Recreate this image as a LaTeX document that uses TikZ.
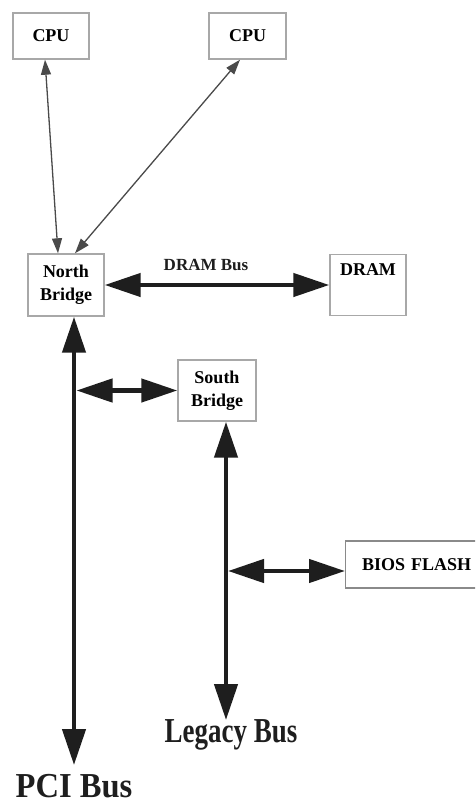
\documentclass[tikz,border=0pt]{standalone}
\usepackage{fontspec}
\setmainfont{Liberation Serif}
\usepackage{graphicx}
\usetikzlibrary{arrows.meta,calc}
\definecolor{boxgray}{HTML}{A8A8A8}
\definecolor{biosgray}{HTML}{8A8A8A}
\definecolor{busblack}{HTML}{1E1E1E}
\definecolor{thingray}{HTML}{4A4A4A}
\begin{document}
\begin{tikzpicture}[x=1pt,y=-1pt,
  box/.style={draw=boxgray, line width=1.4pt, fill=white, inner sep=0pt, align=center,
    font=\fontsize{18}{23}\selectfont\bfseries},
  bus/.style={line width=4.5pt, draw=busblack,
    {Triangle[length=36pt,width=23pt]}-{Triangle[length=36pt,width=23pt]}},
  cpulink/.style={line width=1.3pt, draw=thingray,
    {Triangle[length=15pt,width=10pt]}-{Triangle[length=15pt,width=10pt]}},
  biglabel/.style={anchor=base, inner sep=0pt, text depth=0pt, text=busblack},
]
\clip (0,0) rectangle (475,806);
\fill[white] (0,0) rectangle (475,806);

% boxes
\node[box, minimum width=76pt, minimum height=46pt] (cpu1) at (51,36) {CPU};
\node[box, minimum width=77pt, minimum height=46pt] (cpu2) at (247.5,36) {CPU};
\node[box, minimum width=76pt, minimum height=62pt] (nb) at (66,285) {North\\Bridge};
\node[box, minimum width=76pt, minimum height=61pt] (dram) at (368,285) {DRAM\\\strut};
\node[box, minimum width=78pt, minimum height=61pt] (sb) at (217,390.5) {South\\Bridge};
\node[box, draw=biosgray, anchor=west, minimum height=47pt, text width=122pt,
  inner xsep=16.5pt, align=left] (bios) at (345,564.5) {BIOS FLASH};

% labels
\node[biglabel, font=\fontsize{17}{20}\selectfont\bfseries] (dramlbl) at (206,270) {DRAM Bus};
\node[biglabel, font=\fontsize{35}{38}\selectfont\bfseries] (pcilbl) at (74,797) {\scalebox{0.93}[1]{PCI Bus}};
\node[biglabel, font=\fontsize{35}{38}\selectfont\bfseries] (leglbl) at (231,742) {\scalebox{0.77}[1]{Legacy Bus}};

% coordinates for bus ends
\coordinate (pciend) at (74,765);
\coordinate (legend) at (226,720);
\coordinate (bioin) at ([yshift=-6.5pt]bios.west);
\coordinate (biout) at ([xshift=2pt]bioin -| legend);
\coordinate (sbin) at (sb.west);
\coordinate (sbout) at ([xshift=2.5pt]sbin -| pciend);

% CPU links
\draw[cpulink] ([xshift=-6pt]cpu1.south) -- ([xshift=-8pt]nb.north);
\draw[cpulink] ([xshift=-7.5pt]cpu2.south) -- ([xshift=9pt]nb.north);

% buses
\draw[bus] (nb.east) -- (dram.west);
\draw[bus] (pciend |- nb.south) -- (pciend);
\draw[bus] (sbout) -- (sbin);
\draw[bus] (legend |- sb.south) -- (legend);
\draw[bus] (biout) -- (bioin);
\end{tikzpicture}
\end{document}
